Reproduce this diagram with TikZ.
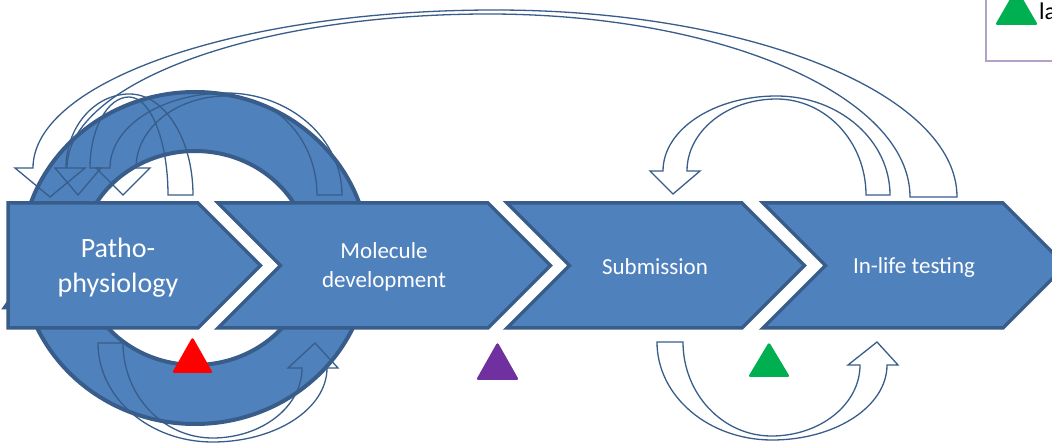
\documentclass[tikz,border=0pt]{standalone}
\usepackage{fontspec}
\setmainfont{Carlito}
\definecolor{pblue}{HTML}{4F81BD}
\definecolor{pedge}{HTML}{385D8A}
\definecolor{fred}{HTML}{FF0000}
\definecolor{fpurple}{HTML}{7030A0}
\definecolor{fgreen}{HTML}{00B050}
\definecolor{legc}{HTML}{B3A2C7}
% quarter ellipse: from side point (#1,#2) to extreme point (#3,#4)
\newcommand\qarcup[4]{.. controls (#1,{#2+0.5523*(#4-#2)}) and ({#3+0.5523*(#1-#3)},#4) .. (#3,#4)}
% quarter ellipse: from extreme point (#1,#2) to side point (#3,#4)
\newcommand\qarcdn[4]{.. controls ({#1+0.5523*(#3-#1)},#2) and (#3,{#4+0.5523*(#2-#4)}) .. (#3,#4)}
\begin{document}
\begin{tikzpicture}[x=1pt,y=-1pt,
  chev/.style={fill=pblue,draw=pedge,line width=3.5pt,line join=miter},
  ringedge/.style={draw=pedge,line width=4pt},
  blk/.style={draw=pedge,line width=1.3pt,line join=miter},
  lbl/.style={text=white,align=center},
  flag/.style={rounded corners=2.5pt}]
\useasboundingbox (0,0) rectangle (1052,443);
\fill[white] (0,0) rectangle (1052,443);
\clip (0,0) rectangle (1052,443);

% thick circular arrow (ring) behind the chevrons
\fill[pblue,even odd rule] (195,258) ellipse [x radius=174pt, y radius=166pt]
  (195,258) ellipse [x radius=115pt, y radius=107pt];
\draw[ringedge] (195,258) ellipse [x radius=174pt, y radius=166pt];
\draw[ringedge] (195,258) ellipse [x radius=115pt, y radius=107pt];
\filldraw[fill=pblue,draw=pedge,line width=3pt] (4,308) -- (112,308) -- (58,232) -- cycle;

% chevrons
\draw[chev] (8,203) -- (198,203) -- (260.5,265.5) -- (198,328) -- (8,328) -- cycle;
\draw[chev] (218,203) -- (488,203) -- (550.5,265.5) -- (488,328) -- (218,328) -- (280.5,265.5) -- cycle;
\draw[chev] (507,203) -- (742,203) -- (804.5,265.5) -- (742,328) -- (507,328) -- (569.5,265.5) -- cycle;
\draw[chev] (763,203) -- (1003,203) -- (1065.5,265.5) -- (1003,328) -- (763,328) -- (825.5,265.5) -- cycle;

\node[lbl,font=\fontsize{28}{35}\selectfont] (patho) at (118,268) {Patho-\\physiology};
\node[lbl,font=\fontsize{23}{29}\selectfont] (molec) at (384,267) {Molecule\\development};
\node[lbl,font=\fontsize{23}{29}\selectfont] (subm) at (655,267) {Submission};
\node[lbl,font=\fontsize{23}{29}\selectfont] (inlife) at (914,267) {In-life testing};

% big arrow: In-life testing -> Patho-physiology
\draw[blk] (957,197) -- (910,197) \qarcup{910}{197}{488.5}{14} \qarcdn{488.5}{14}{67}{168}
  -- (85,168) -- (50,197) -- (15,168) -- (33,168)
  \qarcup{33}{168}{495}{10} \qarcdn{495}{10}{957}{197} -- cycle;
% small arrows over the ring
\draw[blk] (193,195) -- (168,195) \qarcup{168}{195}{129}{97} \qarcdn{129}{97}{90}{168}
  -- (101,168) -- (78,195) -- (55,168) -- (66,168)
  \qarcup{66}{168}{129.5}{94} \qarcdn{129.5}{94}{193}{195} -- cycle;
\draw[blk] (342,195) -- (317,195) \qarcup{317}{195}{226.5}{96} \qarcdn{226.5}{96}{136}{168}
  -- (150,168) -- (123,195) -- (96,168) -- (110,168)
  \qarcup{110}{168}{226}{93} \qarcdn{226}{93}{342}{195} -- cycle;
% loop over Submission
\draw[blk] (890,195) -- (866,195) \qarcup{866}{195}{776.5}{99} \qarcdn{776.5}{99}{687}{171}
  -- (700,171) -- (673,194) -- (650,171) -- (663,171)
  \qarcup{663}{171}{776.5}{96} \qarcdn{776.5}{96}{890}{195} -- cycle;
% bottom-left loop
\draw[blk] (98,343) -- (123,343) \qarcup{123}{343}{212.5}{438} \qarcdn{212.5}{438}{302}{368}
  -- (288,368) -- (315,343) -- (338,368) -- (327,368)
  \qarcup{327}{368}{212.5}{442} \qarcdn{212.5}{442}{98}{343} -- cycle;
% bottom-right loop
\draw[blk] (657,342) -- (683,342) \qarcup{683}{342}{771.5}{436} \qarcdn{771.5}{436}{860}{365}
  -- (848,365) -- (877,342) -- (898,365) -- (887,365)
  \qarcup{887}{365}{772}{440} \qarcdn{772}{440}{657}{342} -- cycle;

% flags
\fill[fred,flag] (172,373) -- (213,373) -- (192.5,337) -- cycle;
\fill[fpurple,flag] (476,380) -- (519,380) -- (497.5,342) -- cycle;
\fill[fgreen,flag] (748,377) -- (790,377) -- (769,342) -- cycle;

% legend (cut off)
\draw[legc,line width=1.5pt] (986,-5) -- (986,61) -- (1060,61);
\fill[fgreen,flag] (995,25) -- (1038,25) -- (1016.5,-12) -- cycle;
\node[anchor=base west,inner sep=0pt,font=\fontsize{24}{29}\selectfont] (leg) at (1039,20) {la};
\end{tikzpicture}
\end{document}
